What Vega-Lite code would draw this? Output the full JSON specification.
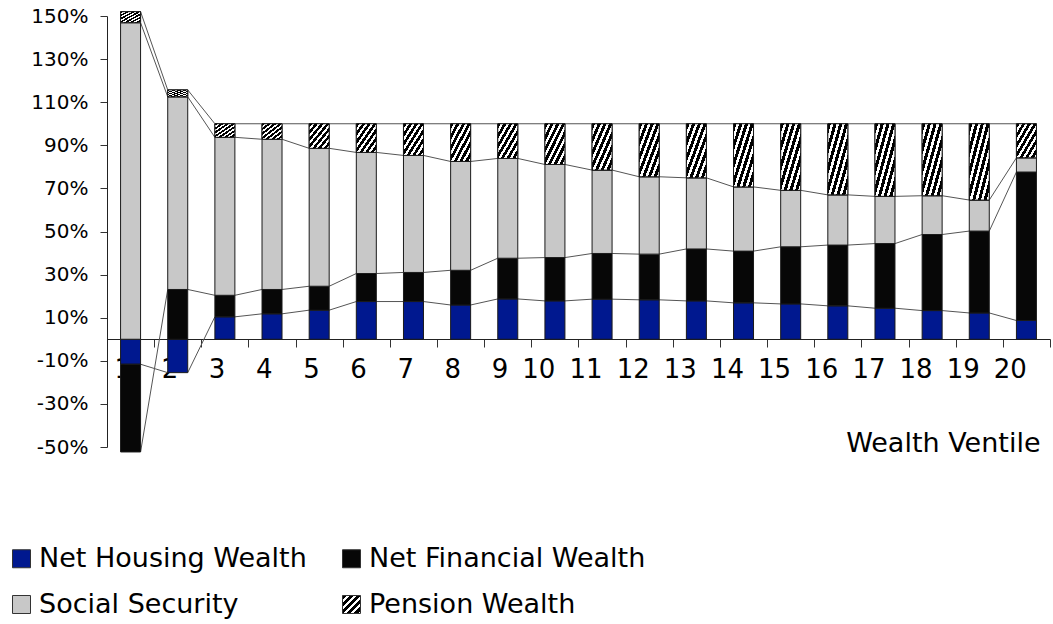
{
  "$schema": "https://vega.github.io/schema/vega-lite/v6.json",
  "autosize": {"type": "none"},
  "padding": {"left": 107, "top": 16, "right": 3, "bottom": 177},
  "width": 943,
  "height": 431,
  "background": "white",
  "config": {"view": {"stroke": null}, "font": "DejaVu Sans"},
  "data": {"values": [
    {"v": 1, "s": "Net Housing Wealth", "o": 1, "val": -11.6},
    {"v": 1, "s": "Net Financial Wealth", "o": 2, "val": -40.7},
    {"v": 1, "s": "Social Security", "o": 3, "val": 146.9},
    {"v": 1, "s": "Pension Wealth", "o": 4, "val": 5.1},
    {"v": 2, "s": "Net Housing Wealth", "o": 1, "val": -15.5},
    {"v": 2, "s": "Net Financial Wealth", "o": 2, "val": 23.1},
    {"v": 2, "s": "Social Security", "o": 3, "val": 89.4},
    {"v": 2, "s": "Pension Wealth", "o": 4, "val": 3.2},
    {"v": 3, "s": "Net Housing Wealth", "o": 1, "val": 10.4},
    {"v": 3, "s": "Net Financial Wealth", "o": 2, "val": 10.0},
    {"v": 3, "s": "Social Security", "o": 3, "val": 73.3},
    {"v": 3, "s": "Pension Wealth", "o": 4, "val": 6.3},
    {"v": 4, "s": "Net Housing Wealth", "o": 1, "val": 11.8},
    {"v": 4, "s": "Net Financial Wealth", "o": 2, "val": 11.3},
    {"v": 4, "s": "Social Security", "o": 3, "val": 69.7},
    {"v": 4, "s": "Pension Wealth", "o": 4, "val": 7.2},
    {"v": 5, "s": "Net Housing Wealth", "o": 1, "val": 13.5},
    {"v": 5, "s": "Net Financial Wealth", "o": 2, "val": 11.1},
    {"v": 5, "s": "Social Security", "o": 3, "val": 64.0},
    {"v": 5, "s": "Pension Wealth", "o": 4, "val": 11.4},
    {"v": 6, "s": "Net Housing Wealth", "o": 1, "val": 17.5},
    {"v": 6, "s": "Net Financial Wealth", "o": 2, "val": 13.0},
    {"v": 6, "s": "Social Security", "o": 3, "val": 56.2},
    {"v": 6, "s": "Pension Wealth", "o": 4, "val": 13.3},
    {"v": 7, "s": "Net Housing Wealth", "o": 1, "val": 17.5},
    {"v": 7, "s": "Net Financial Wealth", "o": 2, "val": 13.5},
    {"v": 7, "s": "Social Security", "o": 3, "val": 54.3},
    {"v": 7, "s": "Pension Wealth", "o": 4, "val": 14.7},
    {"v": 8, "s": "Net Housing Wealth", "o": 1, "val": 15.9},
    {"v": 8, "s": "Net Financial Wealth", "o": 2, "val": 16.1},
    {"v": 8, "s": "Social Security", "o": 3, "val": 50.5},
    {"v": 8, "s": "Pension Wealth", "o": 4, "val": 17.5},
    {"v": 9, "s": "Net Housing Wealth", "o": 1, "val": 18.7},
    {"v": 9, "s": "Net Financial Wealth", "o": 2, "val": 18.9},
    {"v": 9, "s": "Social Security", "o": 3, "val": 46.3},
    {"v": 9, "s": "Pension Wealth", "o": 4, "val": 16.1},
    {"v": 10, "s": "Net Housing Wealth", "o": 1, "val": 17.8},
    {"v": 10, "s": "Net Financial Wealth", "o": 2, "val": 20.1},
    {"v": 10, "s": "Social Security", "o": 3, "val": 43.2},
    {"v": 10, "s": "Pension Wealth", "o": 4, "val": 18.9},
    {"v": 11, "s": "Net Housing Wealth", "o": 1, "val": 18.6},
    {"v": 11, "s": "Net Financial Wealth", "o": 2, "val": 21.2},
    {"v": 11, "s": "Social Security", "o": 3, "val": 38.7},
    {"v": 11, "s": "Pension Wealth", "o": 4, "val": 21.5},
    {"v": 12, "s": "Net Housing Wealth", "o": 1, "val": 18.3},
    {"v": 12, "s": "Net Financial Wealth", "o": 2, "val": 21.2},
    {"v": 12, "s": "Social Security", "o": 3, "val": 35.9},
    {"v": 12, "s": "Pension Wealth", "o": 4, "val": 24.6},
    {"v": 13, "s": "Net Housing Wealth", "o": 1, "val": 17.8},
    {"v": 13, "s": "Net Financial Wealth", "o": 2, "val": 24.1},
    {"v": 13, "s": "Social Security", "o": 3, "val": 33.0},
    {"v": 13, "s": "Pension Wealth", "o": 4, "val": 25.1},
    {"v": 14, "s": "Net Housing Wealth", "o": 1, "val": 16.9},
    {"v": 14, "s": "Net Financial Wealth", "o": 2, "val": 24.0},
    {"v": 14, "s": "Social Security", "o": 3, "val": 29.8},
    {"v": 14, "s": "Pension Wealth", "o": 4, "val": 29.3},
    {"v": 15, "s": "Net Housing Wealth", "o": 1, "val": 16.4},
    {"v": 15, "s": "Net Financial Wealth", "o": 2, "val": 26.5},
    {"v": 15, "s": "Social Security", "o": 3, "val": 26.2},
    {"v": 15, "s": "Pension Wealth", "o": 4, "val": 30.9},
    {"v": 16, "s": "Net Housing Wealth", "o": 1, "val": 15.5},
    {"v": 16, "s": "Net Financial Wealth", "o": 2, "val": 28.2},
    {"v": 16, "s": "Social Security", "o": 3, "val": 23.3},
    {"v": 16, "s": "Pension Wealth", "o": 4, "val": 33.0},
    {"v": 17, "s": "Net Housing Wealth", "o": 1, "val": 14.4},
    {"v": 17, "s": "Net Financial Wealth", "o": 2, "val": 30.0},
    {"v": 17, "s": "Social Security", "o": 3, "val": 21.9},
    {"v": 17, "s": "Pension Wealth", "o": 4, "val": 33.7},
    {"v": 18, "s": "Net Housing Wealth", "o": 1, "val": 13.3},
    {"v": 18, "s": "Net Financial Wealth", "o": 2, "val": 35.3},
    {"v": 18, "s": "Social Security", "o": 3, "val": 18.0},
    {"v": 18, "s": "Pension Wealth", "o": 4, "val": 33.4},
    {"v": 19, "s": "Net Housing Wealth", "o": 1, "val": 12.2},
    {"v": 19, "s": "Net Financial Wealth", "o": 2, "val": 38.0},
    {"v": 19, "s": "Social Security", "o": 3, "val": 14.4},
    {"v": 19, "s": "Pension Wealth", "o": 4, "val": 35.4},
    {"v": 20, "s": "Net Housing Wealth", "o": 1, "val": 8.7},
    {"v": 20, "s": "Net Financial Wealth", "o": 2, "val": 68.9},
    {"v": 20, "s": "Social Security", "o": 3, "val": 6.6},
    {"v": 20, "s": "Pension Wealth", "o": 4, "val": 15.8}
  ]},
  "transform": [
    {"stack": "val", "groupby": ["v"], "sort": [{"field": "o", "order": "ascending"}], "as": ["y0", "y1"]}
  ],
  "layer": [
    {
      "transform": [
        {"window": [{"op": "lead", "field": "y1", "as": "ny1"}, {"op": "lead", "field": "v", "as": "nv"}], "groupby": ["s"], "sort": [{"field": "v", "order": "ascending"}]},
        {"filter": "datum.nv != null"}
      ],
      "mark": {"type": "rule", "xOffset": 10, "x2Offset": -10, "color": "#555555", "strokeWidth": 1},
      "encoding": {
        "x": {"field": "v", "type": "ordinal"},
        "x2": {"field": "nv"},
        "y": {"field": "y1", "type": "quantitative"},
        "y2": {"field": "ny1"}
      }
    },
    {
      "mark": {"type": "bar", "width": 20, "stroke": "#1a1a1a", "strokeWidth": 1},
      "encoding": {
        "x": {
          "field": "v", "type": "ordinal",
          "scale": {"paddingInner": 0, "paddingOuter": 0},
          "axis": {
            "orient": "bottom", "offset": -108, "labelAngle": 0, "tickBand": "extent",
            "tickSize": 8, "tickColor": "#333333", "domainColor": "#222222",
            "labelPadding": 22, "labelFontSize": 26, "labelFont": "DejaVu Sans", "labelColor": "#000000",
            "title": "Wealth Ventile", "titleFontSize": 27, "titleFont": "DejaVu Sans", "titleFontWeight": "normal",
            "titleColor": "#000000", "titleX": 933, "titleY": 91, "titleAlign": "right", "titleBaseline": "top", "titleAnchor": null
          }
        },
        "y": {
          "field": "y0", "type": "quantitative",
          "scale": {"domain": [-50, 150], "nice": false, "zero": false},
          "axis": {
            "values": [-50, -30, -10, 10, 30, 50, 70, 90, 110, 130, 150],
            "labelExpr": "datum.value + '%'", "grid": false, "tickSize": 7,
            "tickColor": "#333333", "domainColor": "#222222",
            "labelPadding": 12, "labelFontSize": 20, "labelFont": "DejaVu Sans", "labelColor": "#000000",
            "title": null
          }
        },
        "y2": {"field": "y1"},
        "color": {
          "field": "s", "type": "nominal",
          "scale": {"range": ["#070707", "#00188F", "#666666", "#C8C8C8"]},
          "legend": null
        },
        "opacity": {
          "field": "s", "type": "nominal",
          "scale": {
            "domain": ["Net Housing Wealth", "Net Financial Wealth", "Social Security", "Pension Wealth"],
            "range": [1, 1, 1, 1]
          },
          "legend": {
            "orient": "none", "legendX": -99, "legendY": 529, "columns": 2, "direction": "horizontal", "title": null,
            "symbolType": "square", "symbolSize": 324, "symbolStrokeColor": "#333333", "symbolStrokeWidth": 1,
            "symbolFillColor": {"expr": "datum.value === 'Pension Wealth' ? {gradient: 'linear', x1: 0, y1: 0, x2: 1, y2: 1, stops: [{offset: 0, color: '#000'}, {offset: 0.12, color: '#000'}, {offset: 0.12, color: '#fff'}, {offset: 0.2, color: '#fff'}, {offset: 0.2, color: '#000'}, {offset: 0.32, color: '#000'}, {offset: 0.32, color: '#fff'}, {offset: 0.4, color: '#fff'}, {offset: 0.4, color: '#000'}, {offset: 0.52, color: '#000'}, {offset: 0.52, color: '#fff'}, {offset: 0.6, color: '#fff'}, {offset: 0.6, color: '#000'}, {offset: 0.72, color: '#000'}, {offset: 0.72, color: '#fff'}, {offset: 0.8, color: '#fff'}, {offset: 0.8, color: '#000'}, {offset: 0.92, color: '#000'}, {offset: 0.92, color: '#fff'}, {offset: 1, color: '#fff'}]} : scale('color', datum.value)"},
            "labelFontSize": 27, "labelFont": "DejaVu Sans", "labelColor": "#000000", "labelLimit": 0,
            "labelOffset": 4, "columnPadding": 31, "rowPadding": 18
          }
        }
      }
    },
    {
      "transform": [{"filter": "datum.s === 'Pension Wealth'"}],
      "mark": {
        "type": "bar", "width": 20, "stroke": "#1a1a1a", "strokeWidth": 1,
        "fill": {"gradient": "linear", "x1": 0, "y1": 0, "x2": 1, "y2": 1, "stops": [
          {"offset": 0, "color": "#000000"}, {"offset": 0.0786, "color": "#000000"}, {"offset": 0.0786, "color": "#ffffff"}, {"offset": 0.1429, "color": "#ffffff"},
          {"offset": 0.1429, "color": "#000000"}, {"offset": 0.2214, "color": "#000000"}, {"offset": 0.2214, "color": "#ffffff"}, {"offset": 0.2857, "color": "#ffffff"},
          {"offset": 0.2857, "color": "#000000"}, {"offset": 0.3643, "color": "#000000"}, {"offset": 0.3643, "color": "#ffffff"}, {"offset": 0.4286, "color": "#ffffff"},
          {"offset": 0.4286, "color": "#000000"}, {"offset": 0.5071, "color": "#000000"}, {"offset": 0.5071, "color": "#ffffff"}, {"offset": 0.5714, "color": "#ffffff"},
          {"offset": 0.5714, "color": "#000000"}, {"offset": 0.65, "color": "#000000"}, {"offset": 0.65, "color": "#ffffff"}, {"offset": 0.7143, "color": "#ffffff"},
          {"offset": 0.7143, "color": "#000000"}, {"offset": 0.7929, "color": "#000000"}, {"offset": 0.7929, "color": "#ffffff"}, {"offset": 0.8571, "color": "#ffffff"},
          {"offset": 0.8571, "color": "#000000"}, {"offset": 0.9357, "color": "#000000"}, {"offset": 0.9357, "color": "#ffffff"}, {"offset": 1, "color": "#ffffff"}
        ]}
      },
      "encoding": {
        "x": {"field": "v", "type": "ordinal"},
        "y": {"field": "y0", "type": "quantitative"},
        "y2": {"field": "y1"}
      }
    }
  ]
}
